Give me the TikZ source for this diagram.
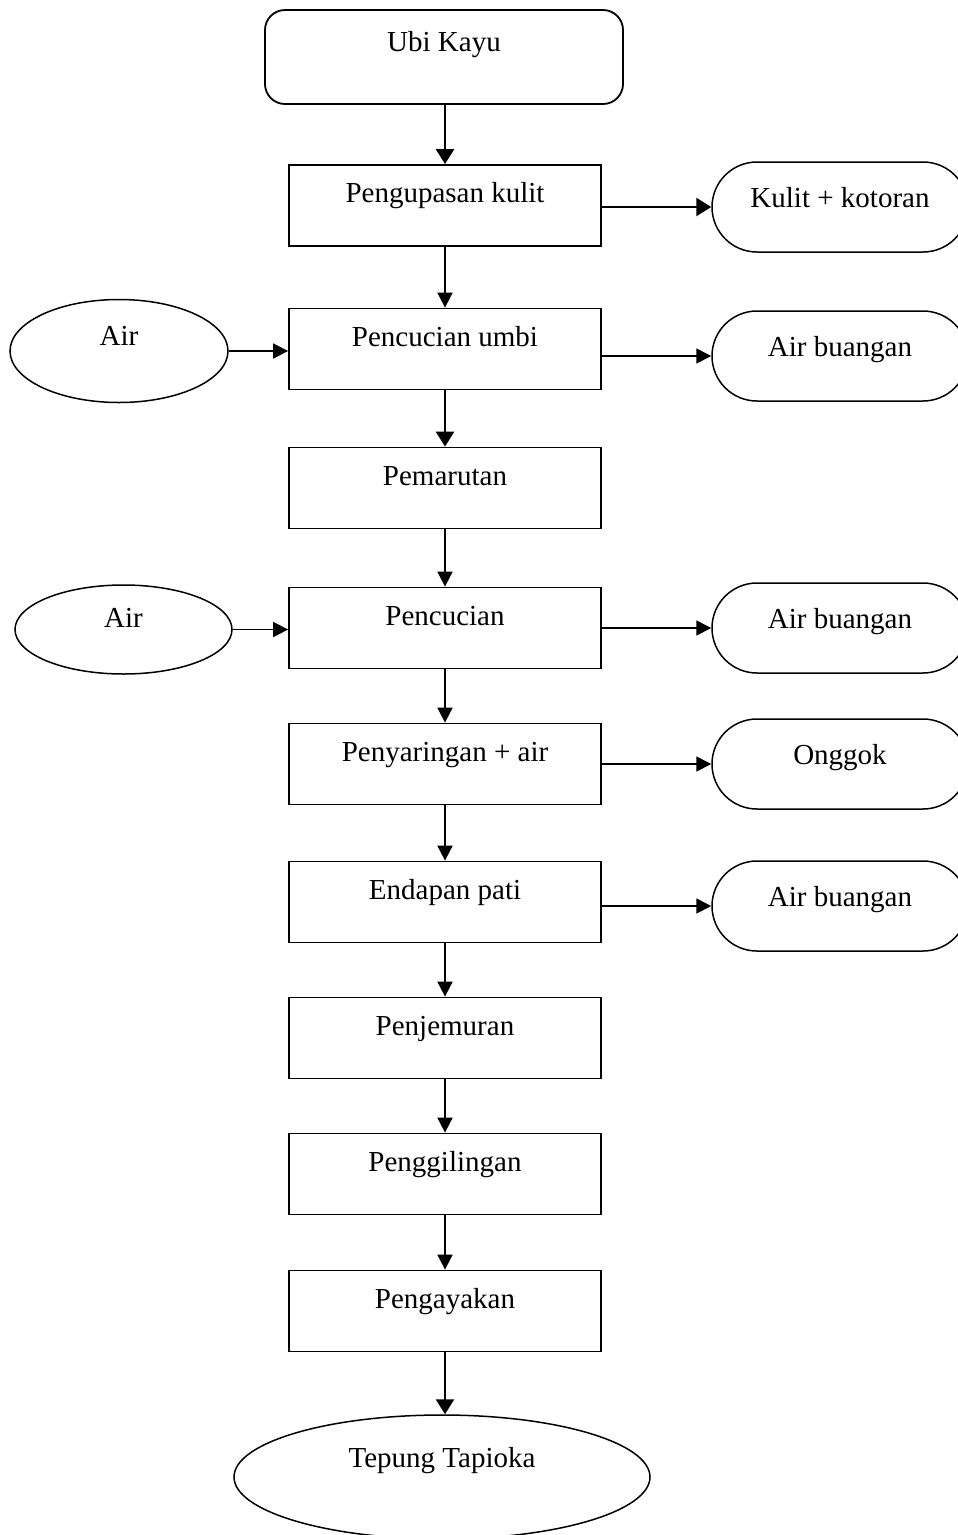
\documentclass[tikz,border=0pt]{standalone}
\usepackage{fontspec}
\setmainfont{Liberation Serif}
\usetikzlibrary{arrows.meta,shapes.geometric}
\begin{document}
\begin{tikzpicture}[x=1pt,y=-1pt,
  every node/.style={font=\fontsize{29}{34}\selectfont, inner sep=0pt, text height=10pt, text depth=10pt},
  stepbox/.style={draw, line width=1.8pt, rectangle, minimum width=312pt, minimum height=81pt, text height=8pt, text depth=14pt},
  startbox/.style={draw, line width=1.8pt, rectangle, rounded corners=20pt, minimum width=358pt, minimum height=94pt, text height=6pt, text depth=18pt},
  outbox/.style={draw, line width=1.5pt, rectangle, rounded corners=45pt, minimum width=256pt, minimum height=90pt},
  inbox/.style={draw, line width=1.5pt, ellipse, inner sep=0pt},
  arr/.style={line width=1.8pt, -{Triangle[length=15pt,width=15pt]}},
  thickarr/.style={line width=2.6pt, -{Triangle[length=15pt,width=18pt]}}
]
\useasboundingbox (0,0) rectangle (958,1535);
\clip (0,0) rectangle (958,1535);

\node[startbox] (ubi) at (444,57) {Ubi Kayu};
\node[stepbox] (p1) at (445,205.5) {Pengupasan kulit};
\node[stepbox] (p2) at (445,349) {Pencucian umbi};
\node[stepbox] (p3) at (445,488) {Pemarutan};
\node[stepbox] (p4) at (445,628) {Pencucian};
\node[stepbox] (p5) at (445,764) {Penyaringan + air};
\node[stepbox] (p6) at (445,902) {Endapan pati};
\node[stepbox] (p7) at (445,1038) {Penjemuran};
\node[stepbox] (p8) at (445,1174) {Penggilingan};
\node[stepbox] (p9) at (445,1311) {Pengayakan};
\node[inbox, minimum width=416pt, minimum height=124pt, text height=0pt, text depth=20pt] (tep) at (442,1477) {Tepung Tapioka};

\node[inbox, minimum width=218pt, minimum height=103pt, text height=4pt, text depth=16pt] (air1) at (119,351) {Air};
\node[inbox, minimum width=217pt, minimum height=89pt, text height=8pt, text depth=12pt] (air2) at (123.5,629.5) {Air};

\node[outbox] (o1) at (840,207) {Kulit + kotoran};
\node[outbox] (o2) at (840,356) {Air buangan};
\node[outbox] (o3) at (840,628) {Air buangan};
\node[outbox] (o4) at (840,764) {Onggok};
\node[outbox] (o5) at (840,906) {Air buangan};

\draw[thickarr] (ubi.south -| p1.north) -- (p1.north);
\draw[arr] (p1) -- (p2);
\draw[thickarr] (p2) -- (p3);
\draw[arr] (p3) -- (p4);
\draw[arr] (p4) -- (p5);
\draw[arr] (p5) -- (p6);
\draw[arr] (p6) -- (p7);
\draw[arr] (p7) -- (p8);
\draw[arr] (p8) -- (p9);
\draw[thickarr] (p9.south) -- (p9.south |- tep.north);

\draw[arr] (air1.east) -- (air1.east -| p2.west);
\draw[arr] (air2.east) -- (air2.east -| p4.west);

\draw[thickarr] (o1.west -| p1.east) -- (o1.west);
\draw[arr] (o2.west -| p2.east) -- (o2.west);
\draw[arr] (o3.west -| p4.east) -- (o3.west);
\draw[arr] (o4.west -| p5.east) -- (o4.west);
\draw[arr] (o5.west -| p6.east) -- (o5.west);
\end{tikzpicture}
\end{document}
